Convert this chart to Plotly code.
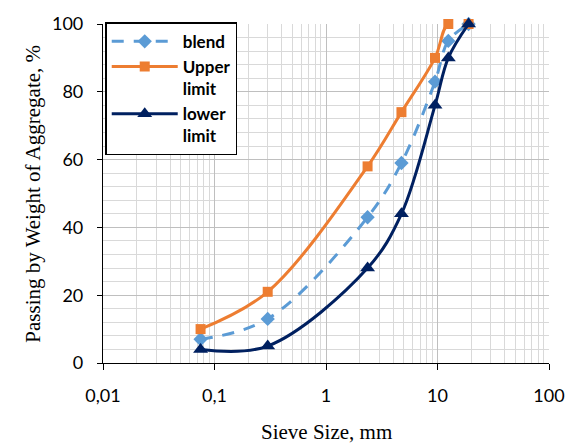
import plotly.graph_objects as go

sieve = [0.075, 0.3, 2.36, 4.75, 9.5, 12.5, 19]
blend = [7, 13, 43, 59, 83, 95, 100]
upper = [10, 21, 58, 74, 90, 100, 100]
lower = [4, 5, 28, 44, 76, 90, 100]

x_tickvals = [0.01, 0.1, 1, 10, 100]
x_ticktext = ["0,01", "0,1", "1", "10", "100"]
y_tickvals = [0, 20, 40, 60, 80, 100]

fig = go.Figure()
fig.add_trace(go.Scatter(
    x=sieve, y=blend, name="blend", mode="lines+markers",
    line=dict(color="#5B9BD5", width=3, dash="12px,10px", shape="spline", smoothing=1),
    marker=dict(symbol="diamond", size=11, color="#5B9BD5"), cliponaxis=False))
fig.add_trace(go.Scatter(
    x=sieve, y=upper, name="Upper<br>limit", mode="lines+markers",
    line=dict(color="#ED7D31", width=3, shape="spline", smoothing=1),
    marker=dict(symbol="square", size=10, color="#ED7D31"), cliponaxis=False))
fig.add_trace(go.Scatter(
    x=sieve, y=lower, name="lower<br>limit", mode="lines+markers",
    line=dict(color="#002060", width=3, shape="spline", smoothing=1),
    marker=dict(symbol="triangle-up", size=13, color="#002060"), cliponaxis=False))

fig.update_layout(
    width=577, height=447,
    margin=dict(l=103, r=27, t=20, b=84),
    paper_bgcolor="white", plot_bgcolor="white",
    font=dict(family="Lato, Open Sans, sans-serif", color="black"),
    legend=dict(x=0.005, y=1.005, xanchor="left", yanchor="top",
                bordercolor="black", borderwidth=1.5, bgcolor="white",
                valign="top", tracegroupgap=0, itemwidth=66, entrywidth=60,
                font=dict(size=17, family="Lato, Open Sans, sans-serif", weight="bold", color="black")),
    showlegend=True,
)
fig.update_xaxes(
    type="log", range=[-2, 2], tickvals=x_tickvals, ticktext=x_ticktext,
    showgrid=True, gridcolor="#BFBFBF", gridwidth=1,
    minor=dict(dtick="D1", showgrid=True, gridcolor="#D9D9D9", gridwidth=1, ticks=""),
    showline=True, linecolor="black", linewidth=1.2,
    ticks="outside", ticklen=6, tickcolor="black",
    tickfont=dict(size=18, color="black"), ticklabelstandoff=10,
    zeroline=False, mirror=False,
)
fig.update_yaxes(
    range=[0, 100], tickvals=y_tickvals,
    showgrid=True, gridcolor="#BFBFBF", gridwidth=1,
    minor=dict(dtick=4, showgrid=True, gridcolor="#D9D9D9", gridwidth=1, ticks=""),
    showline=True, linecolor="black", linewidth=1.2,
    ticks="outside", ticklen=5, tickcolor="black",
    tickfont=dict(size=18, color="black"), ticklabelstandoff=10,
    zeroline=False,
)
fig.add_annotation(text="Sieve Size, mm", xref="paper", yref="paper",
                   x=0.5, y=-70/343, xanchor="center", yanchor="middle", showarrow=False,
                   font=dict(family="Liberation Serif, Times New Roman, serif", size=21, color="black"))
fig.add_annotation(text="Passing by Weight of Aggregate, %", xref="paper", yref="paper",
                   x=-71/447, y=0.5, xanchor="center", yanchor="middle", showarrow=False, textangle=-90,
                   font=dict(family="Liberation Serif, Times New Roman, serif", size=21, color="black"))

fig.write_html("out.html")
